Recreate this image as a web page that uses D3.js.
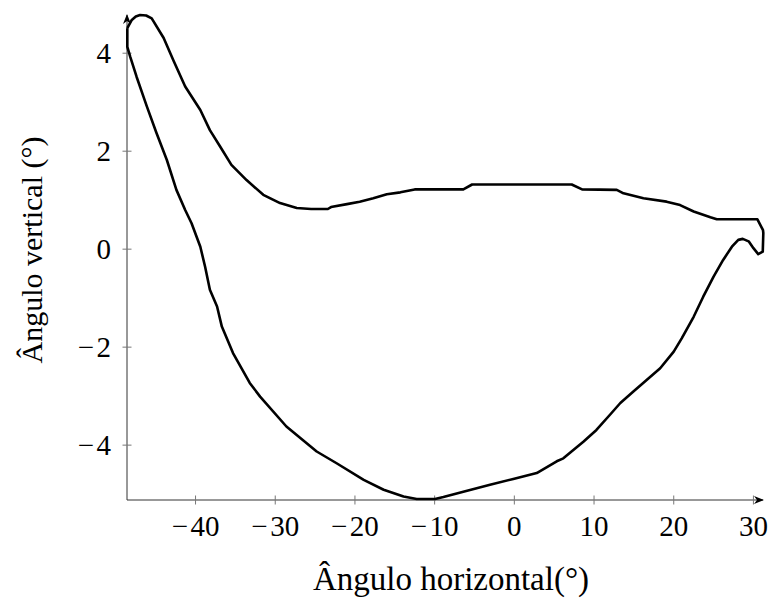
<!DOCTYPE html>
<html>
<head>
  <meta charset="utf-8">
  <title>Ângulo vertical vs horizontal</title>
  <script src="https://cdn.jsdelivr.net/npm/d3@7"></script>
</head>
<style>
  html, body { margin: 0; padding: 0; background: #fff; overflow: hidden }
  svg { font-family: "Liberation Serif", "DejaVu Serif", serif; }
</style>
<body>
  <div id="chart"></div>
</body>
<script>
  // loop traced clockwise: upper edge left->right, then lower edge right->left
  const angH = [
    -48.56, -48.0, -47.5, -46.96, -46.2, -45.5, -44.0, -42.8, -41.3, -39.4, -38.2, -36.9, -35.5, -33.6, -31.5, -29.4, -27.3,
    -25.5, -23.4, -23.0, -21.0, -19.4, -17.7, -16.0, -14.3, -12.5, -6.4, -5.3, 7.2, 8.5, 12.85, 13.7,
    16.2, 19.1, 20.8, 22.5, 24.6, 25.4, 30.5, 31.2, 31.24, 31.17, 30.6, 30.0, 29.4, 28.66, 28.1,
    27.3, 26.2, 25.0, 23.7, 22.5, 21.0, 20.0, 18.3, 16.6, 14.9, 13.3, 12.0, 10.3, 8.66, 6.15,
    5.32, 2.81, -0.13, -3.05, -6.4, -8.9, -9.95, -12.25, -13.9, -16.4, -18.9, -22.3, -24.8, -28.6, -31.9,
    -33.2, -35.3, -36.7, -37.3, -38.2, -38.8, -39.4, -40.5, -41.3, -42.4, -43.6, -44.9, -46.1, -47.4, -48.2,
    -48.56, -48.56
  ]
  const angV = [
    4.51, 4.68, 4.75, 4.78, 4.77, 4.71, 4.31, 3.86, 3.32, 2.84, 2.43, 2.09, 1.72, 1.41, 1.11, 0.94, 0.84,
    0.82, 0.82, 0.86, 0.92, 0.97, 1.04, 1.12, 1.16, 1.22, 1.22, 1.32, 1.32, 1.22, 1.21, 1.14,
    1.04, 0.97, 0.90, 0.77, 0.65, 0.61, 0.61, 0.39, 0.33, -0.05, -0.10, 0.02, 0.16, 0.21, 0.19,
    0.05, -0.22, -0.56, -0.97, -1.38, -1.82, -2.09, -2.43, -2.67, -2.91, -3.14, -3.38, -3.69, -3.93, -4.27,
    -4.33, -4.57, -4.69, -4.81, -4.95, -5.06, -5.10, -5.10, -5.05, -4.91, -4.71, -4.37, -4.13, -3.62, -3.01,
    -2.73, -2.12, -1.58, -1.17, -0.83, -0.36, 0.05, 0.53, 0.80, 1.21, 1.82, 2.37, 2.91, 3.52, 3.93,
    4.13, 4.51
  ]
  const xTicks = [-40, -30, -20, -10, 0, 10, 20, 30]
  const yTicks = [-4, -2, 0, 2, 4]
  const xLabel = 'Ângulo horizontal(°)'
  const yLabel = 'Ângulo vertical (°)'

  const width = 771, height = 599
  const svg = d3.select('#chart').append('svg')
    .attr('width', width)
    .attr('height', height)

  const x = d3.scaleLinear().domain([-48.6, 31.2]).range([127, 763])
  const y = d3.scaleLinear().domain([-5.12, 4.78]).range([500, 15])

  svg.append('defs').append('marker')
    .attr('id', 'arrow')
    .attr('viewBox', '0 0 10 10')
    .attr('refX', 9).attr('refY', 5)
    .attr('markerWidth', 10).attr('markerHeight', 10)
    .attr('markerUnits', 'userSpaceOnUse')
    .attr('orient', 'auto')
    .append('path')
    .attr('d', 'M0,1 L10,5 L0,9 L3,5 Z')
    .attr('fill', '#000')

  // axis lines
  const axes = svg.append('g').attr('stroke', '#333').attr('stroke-width', 1).attr('fill', 'none')
  axes.append('line')
    .attr('x1', x.range()[0]).attr('x2', x.range()[1])
    .attr('y1', y.range()[0]).attr('y2', y.range()[0])
    .attr('marker-end', 'url(#arrow)')
  axes.append('line')
    .attr('x1', x.range()[0]).attr('x2', x.range()[0])
    .attr('y1', y.range()[0]).attr('y2', y.range()[1])
    .attr('marker-end', 'url(#arrow)')

  const fmt = d => d < 0 ? '\u2212\u200A' + Math.abs(d) : d

  // ticks
  const xt = svg.append('g').selectAll('g').data(xTicks).enter().append('g')
    .attr('transform', d => 'translate(' + x(d) + ',' + y.range()[0] + ')')
  xt.append('line').attr('y1', -4.5).attr('y2', 4.5).attr('stroke', '#777')
  xt.append('text')
    .attr('y', 36)
    .attr('text-anchor', 'middle')
    .style('font-size', '29px')
    .text(fmt)

  const yt = svg.append('g').selectAll('g').data(yTicks).enter().append('g')
    .attr('transform', d => 'translate(' + x.range()[0] + ',' + y(d) + ')')
  yt.append('line').attr('x1', -4.5).attr('x2', 4.5).attr('stroke', '#777')
  yt.append('text')
    .attr('x', -16)
    .attr('dy', '0.34em')
    .attr('text-anchor', 'end')
    .style('font-size', '29px')
    .text(fmt)

  // axis labels
  svg.append('text')
    .attr('x', 451).attr('y', 590)
    .attr('text-anchor', 'middle')
    .style('font-size', '33px')
    .text(xLabel)
  svg.append('text')
    .attr('transform', 'translate(42,' + 250 + ') rotate(-90)')
    .attr('text-anchor', 'middle')
    .style('font-size', '30px')
    .text(yLabel)

  // curve
  const line = d3.line()
    .x((d, i) => x(angH[i]))
    .y((d, i) => y(angV[i]))
  svg.append('path')
    .datum(angH)
    .attr('d', line)
    .attr('fill', 'none')
    .attr('stroke', '#000')
    .attr('stroke-width', 2.6)
    .attr('stroke-linejoin', 'round')
</script>
</html>
